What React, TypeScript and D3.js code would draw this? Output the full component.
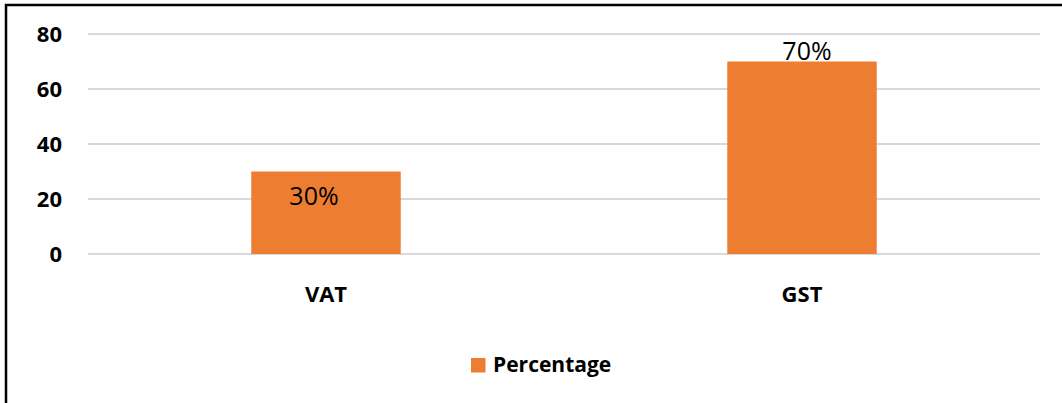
import React from "react";
import * as d3 from "d3";

const categories = ["VAT", "GST"];
const values = [30, 70];
const valueLabels = ["30%", "70%"];
const yTicks = [0, 20, 40, 60, 80];
const seriesName = "Percentage";

const W = 1062;
const H = 403;
const FONT = "'Open Sans', 'Noto Sans', sans-serif";
const BAR = "#ED7D31";

export default function App() {
  const x = d3.scaleBand<string>().domain(categories).range([88, 1040]).paddingInner(0.686).paddingOuter(0.343);
  const y = d3.scaleLinear().domain([0, 80]).range([254, 34]);
  // label placement: first inside end, second just above bar
  const labelDx = [-12, 5];
  const labelDy = [33, -2];
  return (
    <svg width={W} height={H} style={{ position: "absolute", left: 0, top: 0, background: "#fff" }}>
      <rect x={6} y={5} width={W + 20} height={H + 20} fill="#fff" stroke="#000" strokeWidth={2.5} />
      {yTicks.map((t) => (
        <g key={t}>
          <line x1={88} x2={1040} y1={y(t)} y2={y(t)} stroke="#d9d9d9" strokeWidth={2} />
          <text x={62} y={y(t)} dy="0.36em" textAnchor="end" fontFamily={FONT} fontWeight="bold" fontSize={22} fill="#000">
            {t}
          </text>
        </g>
      ))}
      {categories.map((c, i) => (
        <rect key={c} x={x(c)!} y={y(values[i])} width={x.bandwidth()} height={y(0) - y(values[i])} fill={BAR} />
      ))}
      {categories.map((c, i) => (
        <text
          key={c + "l"}
          x={x(c)! + x.bandwidth() / 2 + labelDx[i]}
          y={y(values[i]) + labelDy[i]}
          textAnchor="middle"
          fontFamily={FONT}
          fontSize={25}
          fill="#000"
        >
          {valueLabels[i]}
        </text>
      ))}
      {categories.map((c) => (
        <text key={c + "c"} x={x(c)! + x.bandwidth() / 2} y={302} textAnchor="middle" fontFamily={FONT} fontWeight="bold" fontSize={22} fill="#000">
          {c}
        </text>
      ))}
      <rect x={471} y={358} width={14.5} height={14.5} fill={BAR} />
      <text x={493} y={372} fontFamily={FONT} fontWeight="bold" fontSize={21} fill="#000">
        {seriesName}
      </text>
    </svg>
  );
}
